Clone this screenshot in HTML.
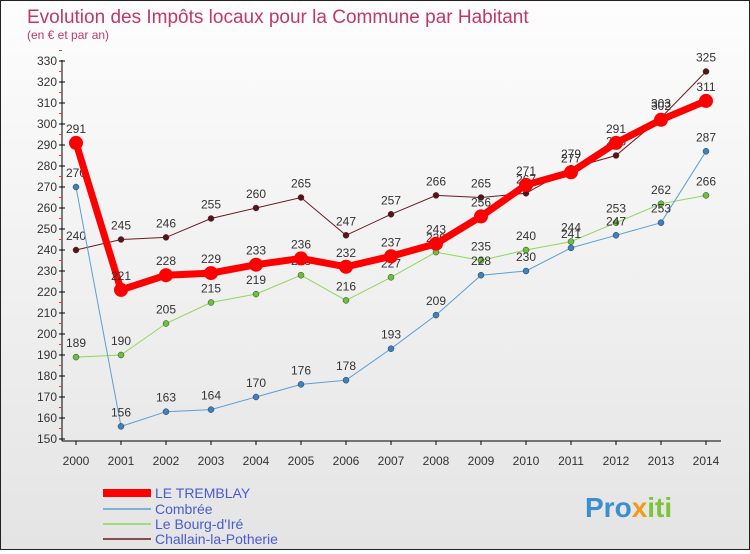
<!DOCTYPE html>
<html><head><meta charset="utf-8"><style>
body{margin:0;width:750px;height:550px;overflow:hidden;font-family:"Liberation Sans",sans-serif}
#frame{position:absolute;left:0;top:0;width:748px;height:548px;border:1px solid #222;background:linear-gradient(#fdfdfd,#e4e4e4)}
</style></head><body>
<div id="frame">
<svg id="chart" width="748" height="548">
<text x="26" y="22" font-size="19" fill="#c0386a">Evolution des Impôts locaux pour la Commune par Habitant</text>
<text x="26" y="38" font-size="12" fill="#c0386a">(en € et par an)</text>
<g id="axes"></g><g id="series"></g><g id="legend"></g>
<text x="584" y="516" font-size="28" font-weight="bold" fill="#3a8fd0">Pro<tspan fill="#f39a1c">x</tspan><tspan fill="#7cc43a">iti</tspan></text>
</svg></div>
<script>
const years=[2000,2001,2002,2003,2004,2005,2006,2007,2008,2009,2010,2011,2012,2013,2014];
const yTicks=[150,160,170,180,190,200,210,220,230,240,250,260,270,280,290,300,310,320,330];
const tremblay=[291,221,228,229,233,236,232,237,243,256,271,277,291,302,311];
const combree=[270,156,163,164,170,176,178,193,209,228,230,241,247,253,287];
const bourg=[189,190,205,215,219,228,216,227,239,235,240,244,253,262,266];
const challain=[240,245,246,255,260,265,247,257,266,265,267,279,285,303,325];
const names=["LE TREMBLAY","Combrée","Le Bourg-d'Iré","Challain-la-Potherie"];
const NS="http://www.w3.org/2000/svg";
const X=i=>75+i*45, Y=v=>438-(v-150)*(378/180);
function mk(t,a,p){const e=document.createElementNS(NS,t);for(const k in a)e.setAttribute(k,a[k]);p.appendChild(e);return e;}
const ax=document.getElementById('axes');
const yl=mk('line',{x1:61,y1:59,x2:61,y2:440,stroke:'#000'},ax);


const xl=mk('line',{x1:61,y1:440,x2:720,y2:440,stroke:'#000'},ax);


yTicks.forEach(v=>{mk('line',{x1:58,x2:64,y1:Y(v),y2:Y(v),stroke:'#000'},ax);
 mk('line',{x1:58,x2:61,y1:Y(v+5),y2:Y(v+5),stroke:'#e33'},ax);
 const t=mk('text',{x:56,y:Y(v)+4,'text-anchor':'end','font-size':12,fill:'#333'},ax);t.textContent=v;
 
 });
years.forEach((y,i)=>{mk('line',{x1:X(i),x2:X(i),y1:440,y2:444,stroke:'#000'},ax);
 const t=mk('text',{x:X(i),y:464,'text-anchor':'middle','font-size':12,fill:'#333'},ax);t.textContent=y;
 
 });
const sg=document.getElementById('series');
const defs=[[challain,'#6b1a1f',1,6,'#5a1218'],[bourg,'#8fd65a',1,6,'#6bc23a'],[combree,'#5a9fd4',1,6,'#3a82c4'],[tremblay,'#f00',7,14,'#f00']];
const keys=['challain','bourg','combree','tremblay'];
defs.forEach((d,si)=>{const g=mk('g',{},sg);
 
 
 mk('polyline',{points:d[0].map((v,i)=>X(i)+','+Y(v)).join(' '),fill:'none',stroke:d[1],'stroke-width':d[2]},g);
 d[0].forEach((v,i)=>{const c=mk('circle',{cx:X(i),cy:Y(v),r:d[3]/2,fill:d[4],stroke:si==3?'none':'#333','stroke-width':0.5},g);
  
  
  const t=mk('text',{x:X(i),y:Y(v)-10,'text-anchor':'middle','font-size':12,fill:'#333'},g);t.textContent=v;
  
  });});
const lg=document.getElementById('legend');
const lc=[['#f00',8],['#5a9fd4',1.5],['#8fd65a',1.5],['#6b1a1f',1.5]];
const ly=[492,508,523,538];
names.forEach((n,i)=>{const g=mk('g',{},lg);
 
 
 mk('line',{x1:102,x2:150,y1:ly[i],y2:ly[i],stroke:lc[i][0],'stroke-width':lc[i][1]},g);
 const t=mk('text',{x:154,y:ly[i]+5,'font-size':14,fill:'#4a5ad0'},g);t.textContent=n;});
</script>
</body></html>
